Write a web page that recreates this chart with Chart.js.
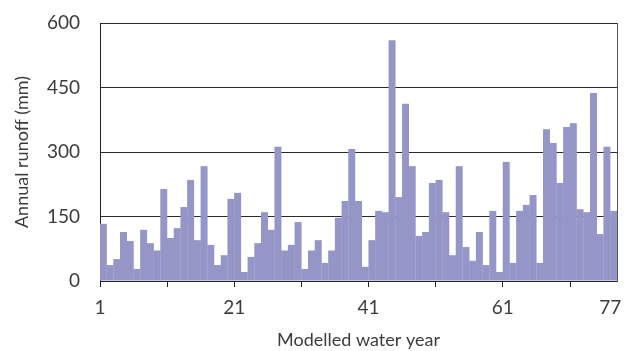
<!DOCTYPE html>
<html>
<head>
<meta charset="utf-8">
<script src="https://cdn.jsdelivr.net/npm/chart.js@4"></script>
<style>
  html, body { margin: 0; padding: 0; background: #fff; }
  #wrap { width: 633px; height: 351px; }
</style>
</head>
<body>
<div id="wrap"><canvas id="runoffChart" width="633" height="351"></canvas></div>
<script>
// Annual runoff per modelled water year (mm)
const runoff = [
  133, 37, 51, 114, 93, 28, 119, 88, 71, 214,
  100, 123, 172, 235, 95, 267, 84, 37, 60, 191,
  205, 21, 56, 88, 160, 119, 312, 71, 84, 137,
  28, 71, 95, 42, 71, 147, 186, 307, 186, 33,
  95, 163, 160, 560, 195, 412, 267, 105, 114, 228,
  235, 160, 60, 267, 79, 47, 114, 37, 163, 21,
  277, 42, 163, 177, 200, 42, 353, 321, 228, 358,
  367, 167, 160, 437, 109, 312, 163
];
const years = runoff.map((v, i) => i + 1);
const xTicks = [1, 11, 21, 31, 41, 51, 61, 71, 77, 78];
const xLabels = [1, 21, 41, 61, 77];
const yTicks = [0, 150, 300, 450, 600];

const textColor = '#3c3c3c';
const tickFont = { family: 'Lato, "Open Sans", sans-serif', size: 19 };
const titleFont = { family: 'Lato, "Open Sans", sans-serif', size: 18 };

const ctx = document.getElementById('runoffChart').getContext('2d');
new Chart(ctx, {
  type: 'bar',
  data: {
    datasets: [{
      data: years.map((y, i) => ({ x: y + 0.5, y: runoff[i] })),
      backgroundColor: '#9595c8',
      borderWidth: 0,
      barPercentage: 1,
      categoryPercentage: 1.04
    }]
  },
  options: {
    responsive: false,
    animation: false,
    layout: { padding: { left: 0, right: 16, top: 23, bottom: 0 } },
    plugins: { legend: { display: false }, tooltip: { enabled: false } },
    scales: {
      x: {
        type: 'linear',
        min: 1,
        max: 78,
        offset: false,
        afterBuildTicks: s => { s.ticks = xTicks.map(v => ({ value: v })); },
        afterFit: s => { s.height = 70; },
        ticks: {
          autoSkip: false,
          maxRotation: 0,
          padding: 9,
          color: textColor,
          font: tickFont,
          callback: v => xLabels.includes(v) ? String(v) : ''
        },
        grid: {
          drawOnChartArea: false,
          offset: false,
          tickLength: 6,
          color: c => (c.tick && (c.tick.value === 77 || c.tick.value === 78)) ? 'rgba(0,0,0,0)' : '#222'
        },
        border: { color: '#222', width: 1 },
        title: {
          display: true,
          text: 'Modelled water year',
          color: textColor,
          font: titleFont,
          padding: { top: 0, bottom: 0 }
        }
      },
      y: {
        min: 0,
        max: 600,
        z: 1,
        afterBuildTicks: s => { s.ticks = yTicks.map(v => ({ value: v })); },
        afterFit: s => { s.width = 100; s.paddingTop = 10; s.paddingBottom = 10; },
        ticks: { padding: 20, color: textColor, font: tickFont },
        grid: { color: '#2a2a2a', lineWidth: 1, drawTicks: false },
        border: { color: '#222', width: 1 },
        title: {
          display: true,
          text: 'Annual runoff (mm)',
          color: textColor,
          font: titleFont,
          padding: { top: 11, bottom: 0 }
        }
      },
      y2: {
        position: 'right',
        min: 0,
        max: 600,
        afterFit: s => { s.width = 0; },
        ticks: { display: false },
        grid: { drawOnChartArea: false, drawTicks: false },
        border: { color: '#555', width: 1 }
      }
    }
  }
});
</script>
</body>
</html>
